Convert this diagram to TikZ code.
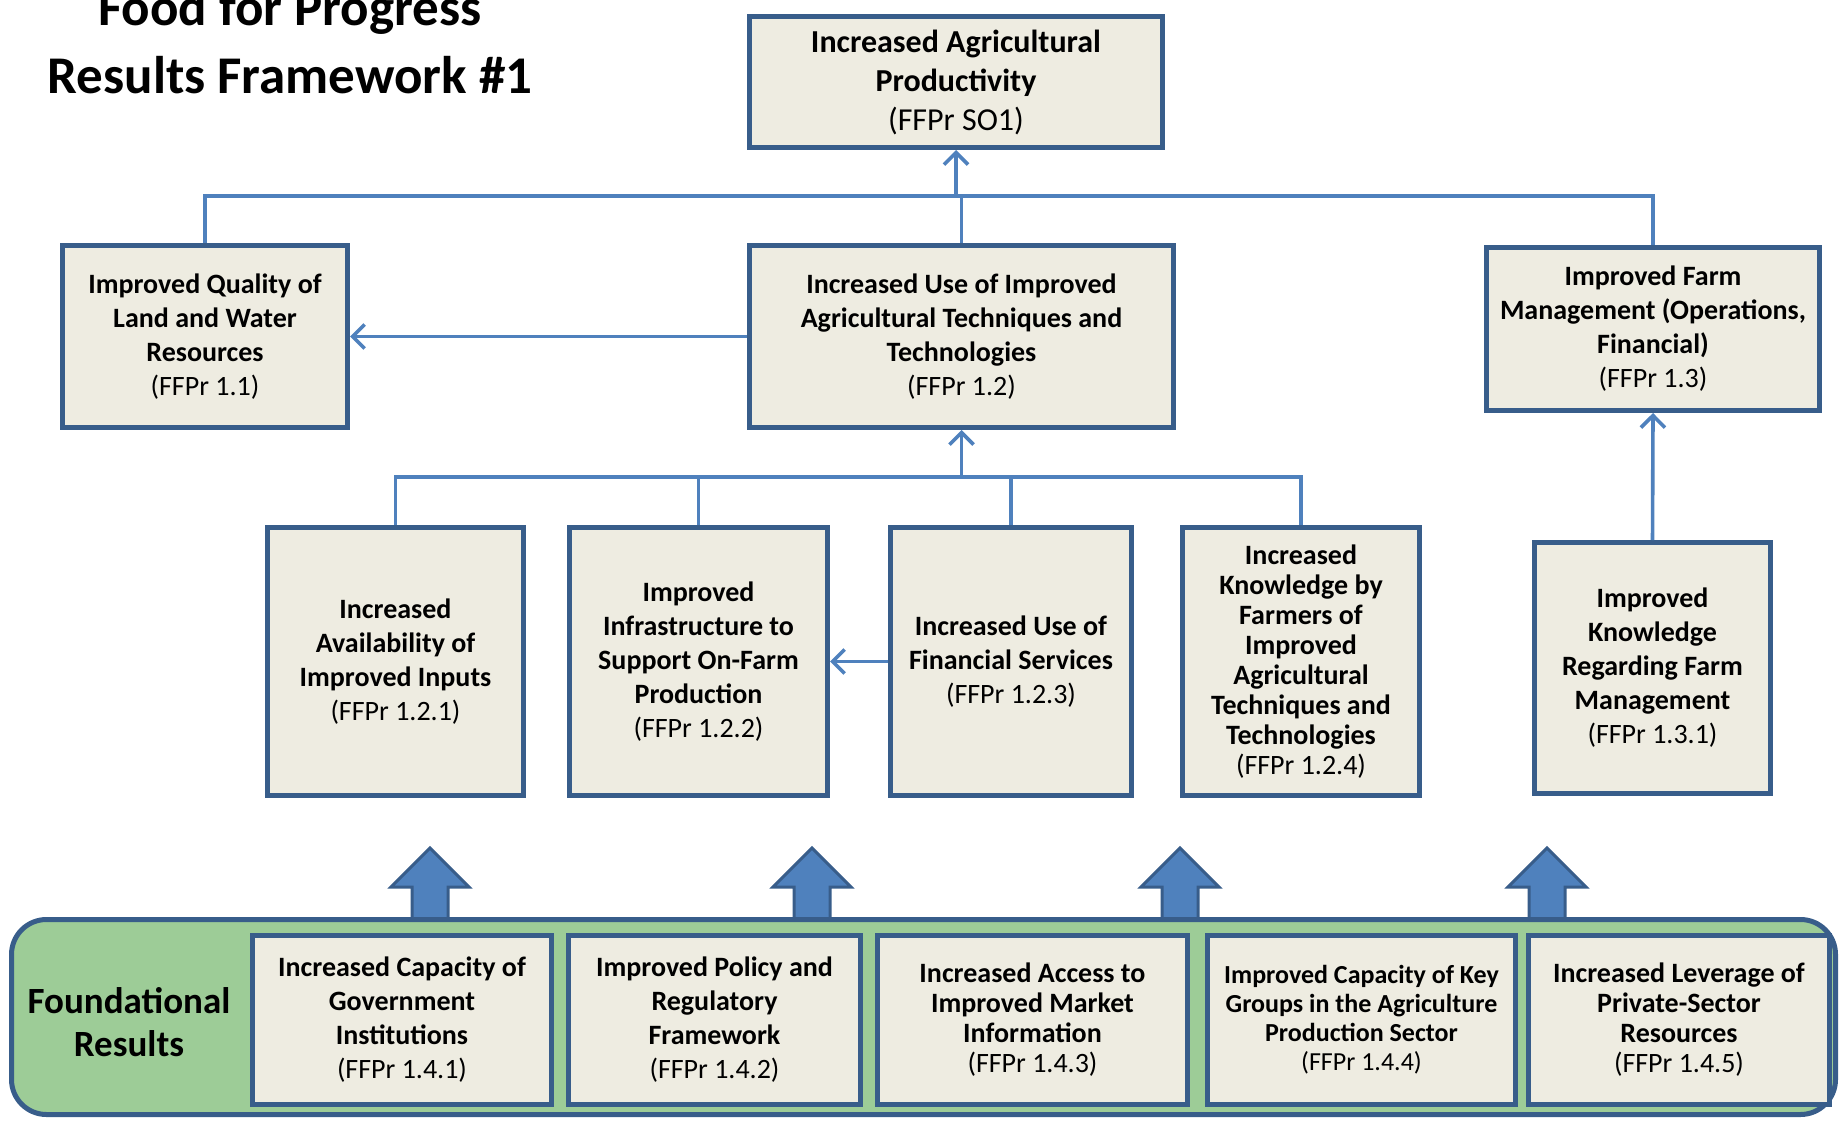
\documentclass[tikz,border=0pt]{standalone}
\usepackage{fontspec}
\setmainfont{Carlito}
\usetikzlibrary{arrows.meta}
\definecolor{boxline}{RGB}{56,93,138}
\definecolor{boxfill}{RGB}{238,236,225}
\definecolor{linkblue}{RGB}{79,129,189}
\definecolor{panelgreen}{RGB}{157,204,151}
\newcommand{\ffpr}[1]{{\mdseries(FFPr #1)}}
\tikzset{
    box/.style={draw=boxline, line width=5pt, fill=boxfill, align=center, inner sep=0pt,
        font=\fontsize{28}{34}\selectfont\bfseries},
    title/.style={font=\fontsize{53}{68}\selectfont\bfseries, inner sep=0pt},
    link/.style={draw=linkblue, line width=3.6pt},
    linkarr/.style={link, -{Straight Barb[length=12pt,width=24pt]}},
    blockarr/.style={draw=boxline, line width=3pt, fill=linkblue, line join=miter},
    panel/.style={draw=boxline, line width=5pt, fill=panelgreen, rounded corners=35pt}
}
\begin{document}
\begin{tikzpicture}[x=1pt,y=-1pt]
\useasboundingbox (0,0) rectangle (1841,1123);

% title
\node[title, anchor=base] (title1) at (290,26) {Food for Progress};
\node[title, anchor=base] (title2) at (290,94) {Results Framework \#1};

% goal
\node[box, font=\fontsize{32}{39}\selectfont\bfseries, minimum width=413pt, minimum height=131pt] (goal) at (956,82) {Increased Agricultural\\Productivity\\\ffpr{SO1}};

% second row
\node[box, minimum width=285pt, minimum height=182pt] (lq) at (205,336.5) {Improved Quality of\\Land and Water\\Resources\\\ffpr{1.1}};
\node[box, minimum width=424pt, minimum height=182pt] (iu) at (961.5,336.5) {Increased Use of Improved\\Agricultural Techniques and\\Technologies\\\ffpr{1.2}};
\node[box, minimum width=333pt, minimum height=163pt] (fm) at (1653,329) {Improved Farm\\Management (Operations,\\Financial)\\\ffpr{1.3}};

% third row
\node[box, minimum width=256pt, minimum height=268pt] (inp) at (395.5,661.5) {Increased\\Availability of\\Improved Inputs\\\ffpr{1.2.1}};
\node[box, minimum width=258pt, minimum height=268pt] (infra) at (698.5,661.5) {Improved\\Infrastructure to\\Support On-Farm\\Production\\\ffpr{1.2.2}};
\node[box, minimum width=241pt, minimum height=268pt] (fin) at (1011,661.5) {Increased Use of\\Financial Services\\\ffpr{1.2.3}};
\node[box, font=\fontsize{28}{30}\selectfont\bfseries, minimum width=237pt, minimum height=268pt] (know) at (1301,661.5) {Increased\\Knowledge by\\Farmers of\\Improved\\Agricultural\\Techniques and\\Technologies\\\ffpr{1.2.4}};
\node[box, minimum width=236pt, minimum height=251pt] (fmk) at (1652.5,668) {Improved\\Knowledge\\Regarding Farm\\Management\\\ffpr{1.3.1}};

% connectors
\coordinate (bus1) at (0,196);
\coordinate (bus2) at (0,477);
\draw[link] (lq.north) -- (lq.north |- bus1) -- (fm.north |- bus1) -- (fm.north);
\draw[link] (iu.north) -- (iu.north |- bus1);
\draw[linkarr] (goal.south |- bus1) -- (goal.south);
\draw[linkarr] (iu.west) -- (lq.east);
\draw[link] (inp.north) -- (inp.north |- bus2) -- (know.north |- bus2) -- (know.north);
\draw[link] (infra.north) -- (infra.north |- bus2);
\draw[link] (fin.north) -- (fin.north |- bus2);
\draw[linkarr] (iu.south |- bus2) -- (iu.south);
\draw[linkarr] (fin.west) -- (infra.east);
\draw[linkarr] (fmk.north) -- (fm.south);

% block arrows
\foreach \x in {430,812,1180,1547}
    \draw[blockarr] (\x-18,920) -- (\x-18,887) -- (\x-39,887) -- (\x,848) -- (\x+39,887) -- (\x+18,887) -- (\x+18,920) -- cycle;

% foundational results
\node[panel, minimum width=1824pt, minimum height=195pt] (found) at (923.5,1017) {};
\node[font=\fontsize{37}{43}\selectfont\bfseries, align=center, inner sep=0pt] (foundlbl) at (129,1022) {Foundational\\Results};
\node[box, minimum width=299pt, minimum height=169pt] (f1) at (402,1020) {Increased Capacity of\\Government\\Institutions\\\ffpr{1.4.1}};
\node[box, minimum width=292pt, minimum height=169pt] (f2) at (714.5,1020) {Improved Policy and\\Regulatory\\Framework\\\ffpr{1.4.2}};
\node[box, font=\fontsize{28}{30}\selectfont\bfseries, minimum width=310pt, minimum height=169pt] (f3) at (1032.5,1020) {Increased Access to\\Improved Market\\Information\\\ffpr{1.4.3}};
\node[box, font=\fontsize{26}{29}\selectfont\bfseries, minimum width=308pt, minimum height=169pt] (f4) at (1361.5,1020) {Improved Capacity of Key\\Groups in the Agriculture\\Production Sector\\\ffpr{1.4.4}};
\node[box, font=\fontsize{28}{30}\selectfont\bfseries, minimum width=301pt, minimum height=169pt] (f5) at (1679,1020) {Increased Leverage of\\Private-Sector\\Resources\\\ffpr{1.4.5}};
\end{tikzpicture}
\end{document}
